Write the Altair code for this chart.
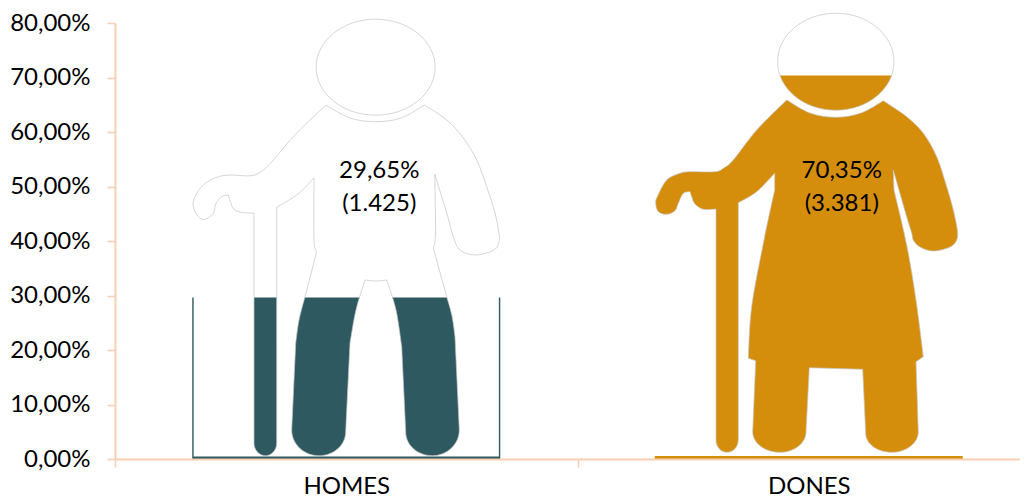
import altair as alt
import pandas as pd

categories = ["HOMES", "DONES"]
shares = [29.65, 70.35]
counts = ["1.425", "3.381"]
y_ticks = [0, 10, 20, 30, 40, 50, 60, 70, 80]

TEAL = "#2F5960"
ORANGE = "#D58E0B"
PEACH = "#F8CFB2"
OUTLINE = "#C4C4C4"
FONT = "Lato"

# silhouettes, in page pixels; each run is a smooth stretch, runs meet at corners
# a run starting with "cap" is a rounded foot: side, lowest point, other side
MAN_C = (346.25, 241)
MAN_HEAD = (375.6, 67.2, 59.5, 48)
MAN_RUNS = [
    [(326, 105), (350, 118), (375.7, 121.7), (401, 118), (424.3, 105)],
    [(424.3, 105), (446.7, 120), (463.3, 138), (476.7, 160), (486.7, 186.7), (495, 213), (498.3, 230), (499.3, 240), (494, 250), (475, 255), (460, 250), (453.7, 238), (446.7, 213), (434.7, 174)],
    [(434.7, 174), (435.5, 233), (433.3, 248)],
    [(433.3, 248), (446.7, 296.7)],
    [(446.7, 296.7), (452, 316), (455, 336.7)],
    [(455, 336.7), (459.3, 430)],
    ["cap", (459.3, 430), (432.3, 455.7), (405.7, 432)],
    [(405.7, 432), (401.7, 346.7)],
    [(401.7, 346.7), (396, 310), (386.7, 280)],
    [(386.7, 280), (375.7, 281), (365, 280)],
    [(365, 280), (356, 310), (350, 343)],
    [(350, 343), (345.7, 431.7)],
    ["cap", (345.7, 431.7), (319, 455.7), (291.7, 430)],
    [(291.7, 430), (295.7, 343)],
    [(295.7, 343), (299, 320), (305, 296.7)],
    [(305, 296.7), (316.7, 251.7)],
    [(316.7, 251.7), (314, 240), (314, 178)],
    [(314, 178), (298, 194), (276.7, 207.3)],
    [(276.7, 207.3), (276.7, 443)],
    ["cap", (276.7, 443), (265.5, 455.7), (254, 443)],
    [(254, 443), (254, 213.3)],
    [(254, 213.3), (240, 212), (233, 208), (228.3, 195)],
    [(228.3, 195), (221.7, 196.7), (216, 203.3), (213.3, 213.3), (205, 219.3), (198.3, 216.7), (193.3, 206.7), (195, 196.7), (203.3, 185), (216.7, 177.3), (230, 175), (251.7, 175.7), (263.3, 170), (273.3, 160), (296.7, 133), (326, 105)],
]

WOMAN_C = (808.75, 241)
WOMAN_HEAD = (835.8, 61.7, 58.2, 48.5)
WOMAN_RUNS = [
    [(786.7, 100), (810, 113), (835.7, 117.3), (861, 113), (883.3, 100.7)],
    [(883.3, 100.7), (906.7, 116.7), (923.3, 133.3), (936.7, 156.7), (946.7, 186.7), (953.3, 210), (957.3, 230), (956.7, 240), (950, 247), (933.3, 251), (920, 247), (913.3, 240), (911.7, 233), (906.7, 216.7), (893.3, 170)],
    [(893.3, 170), (894, 190)],
    [(894, 190), (906.7, 245), (916, 300), (923.3, 356.7)],
    [(923.3, 356.7), (916, 361.7)],
    [(916, 361.7), (918.3, 431.7)],
    ["cap", (918.3, 431.7), (891.7, 452.3), (865.7, 433.3)],
    [(865.7, 433.3), (862.7, 369.3)],
    [(862.7, 369.3), (809.3, 367.7)],
    [(809.3, 367.7), (806, 431.7)],
    ["cap", (806, 431.7), (780, 452.3), (752.7, 431.7)],
    [(752.7, 431.7), (755.7, 360.7)],
    [(755.7, 360.7), (748.3, 358.3)],
    [(748.3, 358.3), (751.7, 306.7), (764, 240), (774.7, 190)],
    [(774.7, 190), (774.7, 173.3)],
    [(774.7, 173.3), (756.7, 191.7), (738.3, 202.7)],
    [(738.3, 202.7), (738.3, 440)],
    ["cap", (738.3, 440), (727, 452.3), (716, 440)],
    [(716, 440), (716, 209)],
    [(716, 209), (703.3, 209.3), (695, 204), (691.7, 196.7), (690, 191.7)],
    [(690, 191.7), (683.3, 193.3), (678.3, 203.3), (675, 210.7), (666.7, 214.3), (658.3, 211.7), (655.7, 203.3), (657.3, 196.7), (666.7, 180), (680, 173.3), (690, 171.7), (715, 171.7), (723.3, 168.3), (733.3, 160), (756.7, 130), (786.7, 100)],
]


def fmt(x, y, c):
    return f"{x - c[0]:.2f} {y - c[1]:.2f}"


def body_path(runs, c):
    d = "M" + fmt(*runs[0][0], c)
    k = 0.5523
    for run in runs:
        if run[0] == "cap":
            p1, pb, p2 = run[1:]
            d += ("C" + fmt(p1[0], p1[1] + k * (pb[1] - p1[1]), c) + " "
                  + fmt(pb[0] + k * (p1[0] - pb[0]), pb[1], c) + " " + fmt(*pb, c))
            d += ("C" + fmt(pb[0] + k * (p2[0] - pb[0]), pb[1], c) + " "
                  + fmt(p2[0], p2[1] + k * (pb[1] - p2[1]), c) + " " + fmt(*p2, c))
            continue
        if len(run) == 2:
            d += "L" + fmt(*run[1], c)
            continue
        for i in range(len(run) - 1):
            p0 = run[max(i - 1, 0)]
            p1, p2 = run[i], run[i + 1]
            p3 = run[min(i + 2, len(run) - 1)]
            a = (p1[0] + (p2[0] - p0[0]) / 6, p1[1] + (p2[1] - p0[1]) / 6)
            b = (p2[0] - (p3[0] - p1[0]) / 6, p2[1] - (p3[1] - p1[1]) / 6)
            d += "C" + fmt(*a, c) + " " + fmt(*b, c) + " " + fmt(*p2, c)
    return d + "Z"


def head_path(h, c):
    cx, cy, rx, ry = h
    k = 0.5523
    return (
        "M" + fmt(cx - rx, cy, c)
        + "C" + fmt(cx - rx, cy - k * ry, c) + " " + fmt(cx - k * rx, cy - ry, c) + " " + fmt(cx, cy - ry, c)
        + "C" + fmt(cx + k * rx, cy - ry, c) + " " + fmt(cx + rx, cy - k * ry, c) + " " + fmt(cx + rx, cy, c)
        + "C" + fmt(cx + rx, cy + k * ry, c) + " " + fmt(cx + k * rx, cy + ry, c) + " " + fmt(cx, cy + ry, c)
        + "C" + fmt(cx - k * rx, cy + ry, c) + " " + fmt(cx - rx, cy + k * ry, c) + " " + fmt(cx - rx, cy, c)
        + "Z"
    )


def frame(half_w, top, bottom):
    # wound against the figure, so the figure stays a hole in the white mask
    return f"M{-half_w} {top}L{-half_w} {bottom}L{half_w} {bottom}L{half_w} {top}Z"


man_line = head_path(MAN_HEAD, MAN_C) + body_path(MAN_RUNS, MAN_C)
woman_line = head_path(WOMAN_HEAD, WOMAN_C) + body_path(WOMAN_RUNS, WOMAN_C)
man_mask = frame(152.6, -236, 215.5) + man_line
woman_mask = frame(160, -236, 215) + woman_line

df = pd.DataFrame({
    "cat": categories,
    "share": shares,
    "label": [f"{str(s).replace('.', ',')}%\n({c})" for s, c in zip(shares, counts)],
})

x = alt.X(
    "cat:N",
    sort=categories,
    title=None,
    scale=alt.Scale(domain=categories, range=[0, 925], paddingInner=0, paddingOuter=0),
    axis=alt.Axis(
        labelAngle=0, labelFont=FONT, labelFontSize=24, labelColor="#000000", labelPadding=7.5,
        tickBand="extent", tickSize=8, tickWidth=1.5, tickColor=PEACH, domainColor=PEACH,
        domainWidth=2, zindex=1,
    ),
)
y_scale = alt.Scale(domain=[0, 80], nice=False)

bars = alt.Chart(df).mark_bar(size=308).encode(
    x=x,
    y=alt.Y(
        "share:Q",
        title=None,
        scale=y_scale,
        axis=alt.Axis(
            values=y_ticks,
            labelExpr="replace(format(datum.value, '.2f'), '.', ',') + '%'",
            labelFont=FONT, labelFontSize=24, labelColor="#000000", labelPadding=17,
            tickSize=8, tickWidth=1.5, tickColor=PEACH, domainColor=PEACH, domainWidth=2,
            grid=False, zindex=1,
        ),
    ),
    color=alt.Color("cat:N", scale=alt.Scale(domain=categories, range=[TEAL, ORANGE]), legend=None),
)

mask = alt.Chart(df).mark_point(filled=True, fill="#ffffff", opacity=1, size=4, strokeWidth=0).encode(
    x=x,
    y=alt.datum(40, scale=y_scale),
    shape=alt.Shape("cat:N", scale=alt.Scale(domain=categories, range=[man_mask, woman_mask]), legend=None),
)

outline = alt.Chart(df).mark_point(filled=False, stroke=OUTLINE, opacity=1, size=4, strokeWidth=0.7).encode(
    x=x,
    y=alt.datum(40, scale=y_scale),
    shape=alt.Shape("cat:N", scale=alt.Scale(domain=categories, range=[man_line, woman_line]), legend=None),
)

labels = alt.Chart(df).mark_text(
    font=FONT, fontSize=24, color="#000000", lineBreak="\n", lineHeight=33,
    align="center", baseline="middle", dx=33, dy=-16,
).encode(
    x=x,
    y=alt.datum(50, scale=y_scale),
    text="label:N",
)

chart = alt.layer(bars, mask, outline, labels).resolve_scale(shape="independent").properties(
    width=905,
    height=436,
    padding={"left": 107, "top": 15, "right": 0, "bottom": 39},
    autosize=alt.AutoSizeParams(type="none"),
    background="#ffffff",
).configure_view(stroke=None)

chart.save("out.html", embed_options={"renderer": "svg", "actions": False})
